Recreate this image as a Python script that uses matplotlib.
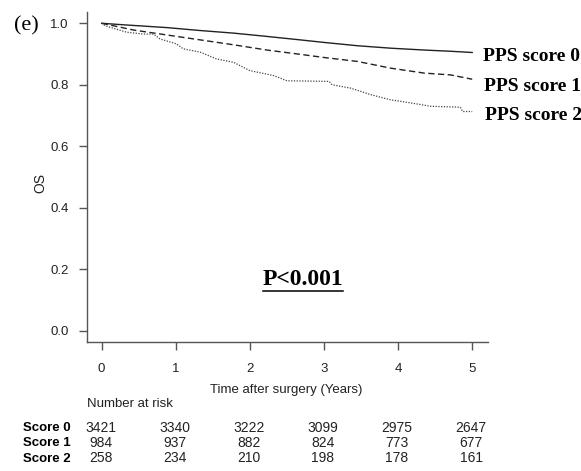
import matplotlib
matplotlib.use("Agg")
import matplotlib.pyplot as plt
from matplotlib.lines import Line2D

# ---- data ----
years = [0, 1, 2, 3, 4, 5]
score0_t = [0, 0.3, 0.88, 1.30, 1.78, 2.20, 2.68, 2.99, 3.45, 3.90, 4.35, 4.71, 5.0]
score0_s = [1.0, 0.995, 0.986, 0.977, 0.968, 0.958, 0.946, 0.938, 0.927, 0.919, 0.913, 0.909, 0.905]
score1_t = [0, 0.1, 0.43, 0.88, 1.33, 1.78, 2.23, 2.68, 2.99, 3.45, 3.90, 4.35, 4.71, 5.0]
score1_s = [1.0, 0.995, 0.978, 0.962, 0.946, 0.930, 0.913, 0.899, 0.889, 0.876, 0.854, 0.838, 0.832, 0.818]
score2_t = [0, 0.05, 0.157, 0.337, 0.56, 0.70, 0.787, 1.01, 1.10, 1.33, 1.55, 1.78, 2.0, 2.32, 2.50,
            3.07, 3.11, 3.36, 3.63, 3.90, 4.17, 4.44, 4.84, 4.87, 5.0]
score2_s = [1.0, 0.992, 0.984, 0.971, 0.965, 0.965, 0.949, 0.933, 0.917, 0.906, 0.884, 0.873, 0.846, 0.830, 0.813,
            0.811, 0.800, 0.789, 0.768, 0.751, 0.741, 0.730, 0.727, 0.713, 0.713]
risk_labels = ["Score 0", "Score 1", "Score 2"]
risk0 = [3421, 3340, 3222, 3099, 2975, 2647]
risk1 = [984, 937, 882, 824, 773, 677]
risk2 = [258, 234, 210, 198, 178, 161]
curve_labels = ["PPS score 0", "PPS score 1", "PPS score 2"]
yticks = [0.0, 0.2, 0.4, 0.6, 0.8, 1.0]

W, H = 581, 471
fig = plt.figure(figsize=(W / 100, H / 100), dpi=100)

def fx(px):
    return px / W

def fy(py):
    return 1 - py / H

ax = fig.add_axes([fx(87), fy(341.7), fx(488) - fx(87), fy(11.7) - fy(341.7)])
ax.set_xlim(-0.198, 5.213)
ax.set_ylim(-0.0358, 1.0377)

sans = ["Liberation Sans", "DejaVu Sans"]
serif = ["Liberation Serif", "DejaVu Serif"]

ax.plot(score0_t, score0_s, color="#222222", lw=1.0, ls="-")
ax.plot(score1_t, score1_s, color="#222222", lw=1.0, ls=(0, (4.5, 2.5)))
ax.plot(score2_t, score2_s, color="#444444", lw=0.9, ls=(0, (1, 1.2)))

for s in ["top", "right"]:
    ax.spines[s].set_visible(False)
for s in ["left", "bottom"]:
    ax.spines[s].set_color("#555555")
    ax.spines[s].set_linewidth(1.0)

ax.set_xticks(years)
ax.set_xticklabels([str(y) for y in years], fontfamily=sans, fontsize=9.5, color="#222222")
ax.set_yticks(yticks)
ax.set_yticklabels([f"{v:.1f}" for v in yticks], fontfamily=sans, fontsize=9.5, color="#222222")
ax.tick_params(axis="both", direction="out", length=6, width=1.0, color="#555555")
ax.tick_params(axis="y", pad=7)
ax.tick_params(axis="x", pad=9)

# y label
fig.text(fx(40.7), fy(183), "OS", rotation=90, ha="center", va="center",
         fontfamily=sans, fontsize=10, color="#222222")
# x label
fig.text(fx(286), fy(390), "Time after surgery (Years)", ha="center", va="center",
         fontfamily=sans, fontsize=9.5, color="#222222")

# panel letter
fig.text(fx(26), fy(26), "(e)", ha="center", va="center", fontfamily=serif, fontsize=16, color="black")

# curve labels
for lab, (xp, yp) in zip(curve_labels, [(483, 56.7), (483.5, 86.7), (485, 116)]):
    fig.text(fx(xp), fy(yp), lab, ha="left", va="center", fontfamily=serif,
             fontsize=14, fontweight="bold", color="black")

# P-value with underline
fig.text(fx(303.3), fy(279.3), "P<0.001", ha="center", va="center", fontfamily=serif,
         fontsize=17, fontweight="bold", color="black")
fig.add_artist(Line2D([fx(263.3), fx(343.3)], [fy(290.7), fy(290.7)],
                      transform=fig.transFigure, color="black", lw=1.1))

# number at risk table
fig.text(fx(87.3), fy(404), "Number at risk", ha="left", va="center",
         fontfamily=sans, fontsize=9.5, color="#222222")
for lab, row, yp in zip(risk_labels, [risk0, risk1, risk2], [428, 443, 458.5]):
    fig.text(fx(70.7), fy(yp), lab, ha="right", va="center", fontfamily=sans,
             fontsize=9.5, fontweight="bold", color="black")
    for yr, n in zip(years, row):
        xdisp = ax.transData.transform((yr, 0))[0]
        fig.text(xdisp / W - 0.002, fy(yp), str(n), ha="center", va="center",
                 fontfamily=sans, fontsize=10, color="#222222")

fig.savefig("out.png", dpi=100)
